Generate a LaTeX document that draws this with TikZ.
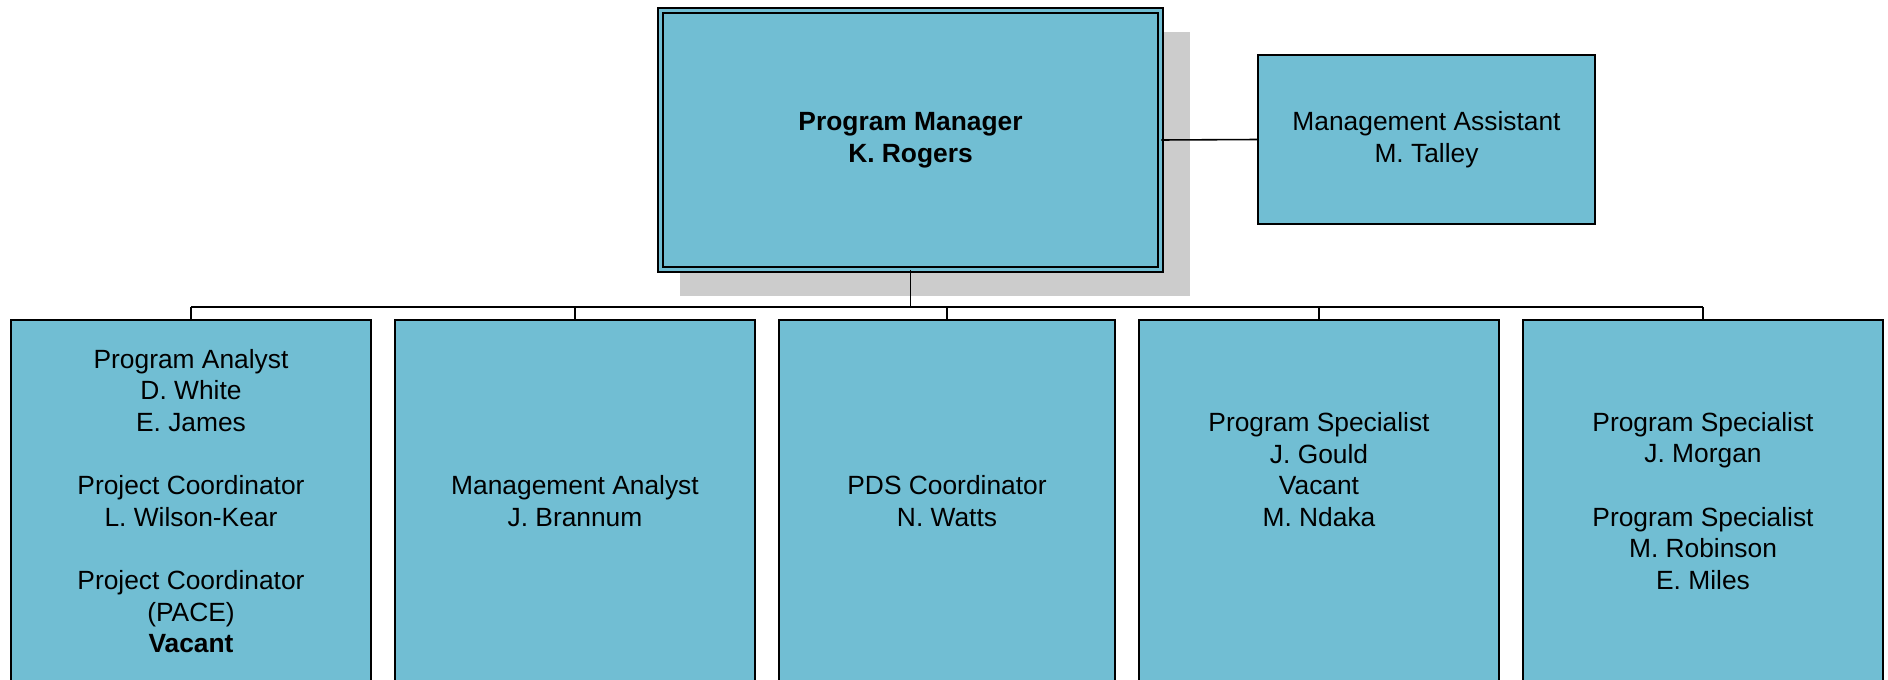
\documentclass[tikz,border=0pt]{standalone}
\usepackage{fontspec}
\setmainfont{Liberation Sans}
\definecolor{orgblue}{HTML}{71BED3}
\definecolor{orgshade}{HTML}{CCCCCC}
\usetikzlibrary{shadows}

\begin{document}
\begin{tikzpicture}[x=0.02cm, y=-0.02cm,
  headbox/.style={draw, line width=1pt, double=orgblue, double distance=2pt, fill=orgblue,
                  minimum width=10cm, minimum height=5.18cm, align=center, font=\fontsize{15}{18}\selectfont\bfseries,
                  drop shadow={shadow xshift=0.48cm, shadow yshift=-0.47cm, shadow scale=1.02, fill=orgshade, opacity=1}},
  staffbox/.style={draw, line width=0.9pt, fill=orgblue, minimum width=6.74cm, minimum height=3.38cm,
                   align=center, font=\fontsize{15}{18}\selectfont},
  unitbox/.style={draw, line width=0.9pt, fill=orgblue, minimum width=7.2cm, minimum height=7.24cm,
                  align=center, font=\fontsize{15}{18}\selectfont, inner sep=0pt},
]
  \useasboundingbox (0,0) rectangle (1888,679);

  \node[headbox] (pm) at (910.5,140) {Program Manager\\K. Rogers};
  \node[staffbox] (ma) at (1426.5,139.5) {Management Assistant\\M. Talley};

  \node[unitbox] (u1) at (191,501) {Program Analyst\\D. White\\E. James\\ \\Project Coordinator\\L. Wilson-Kear\\ \\Project Coordinator\\(PACE)\\\textbf{Vacant}};
  \node[unitbox] (u2) at (575,501) {Management Analyst\\J. Brannum};
  \node[unitbox, minimum width=6.72cm] (u3) at (947,501) {PDS Coordinator\\N. Watts};
  \node[unitbox] (u4) at (1319,501) {Program Specialist\\J. Gould\\Vacant\\M. Ndaka\\ ~\\ ~};
  \node[unitbox] (u5) at (1703,501) {Program Specialist\\J. Morgan\\ \\Program Specialist\\M. Robinson\\E. Miles};

  % Connectors
  \coordinate (bus) at (0,307);
  \draw[line width=0.9pt] (pm.east) -- (ma.west);
  \draw[line width=0.9pt] (pm.south) -- (pm.south |- bus);
  \draw[line width=0.9pt] (u1.north |- bus) -- (u5.north |- bus);
  \foreach \u in {u1,u2,u3,u4,u5}
    \draw[line width=0.9pt] (\u.north |- bus) -- (\u.north);
\end{tikzpicture}
\end{document}
